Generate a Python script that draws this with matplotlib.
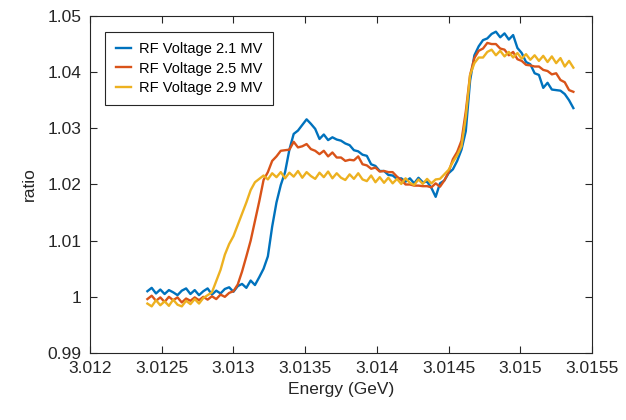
import numpy as np
import matplotlib
matplotlib.use("Agg")
from matplotlib import pyplot as plt
from matplotlib.ticker import FuncFormatter

plt.rcParams['font.family'] = ['Liberation Sans', 'DejaVu Sans']

# energy scan, shared by all three runs (GeV)
e_start = 3.0124
e_stop = 3.01537

labels = ["RF Voltage 2.1 MV", "RF Voltage 2.5 MV", "RF Voltage 2.9 MV"]
colors = ["#0072BD", "#D95319", "#EDB120"]

ratio_21 = [
    1.0010, 1.0016, 1.0006, 1.0013, 1.0005, 1.0012, 1.0008, 1.0003, 1.0011, 1.0015,
    1.0005, 1.0012, 1.0003, 1.0010, 1.0015, 1.0004, 1.0011, 1.0006, 1.0014, 1.0017,
    1.0009, 1.0019, 1.0023, 1.0016, 1.0029, 1.0021, 1.0035, 1.0050, 1.0072, 1.0125,
    1.0168, 1.0199, 1.0222, 1.0262, 1.0290, 1.0296, 1.0306, 1.0316, 1.0308, 1.0299,
    1.0281, 1.0289, 1.0279, 1.0284, 1.0280, 1.0278, 1.0273, 1.0270, 1.0261, 1.0259,
    1.0253, 1.0251, 1.0236, 1.0233, 1.0224, 1.0224, 1.0217, 1.0216, 1.0210, 1.0211,
    1.0205, 1.0211, 1.0202, 1.0212, 1.0204, 1.0205, 1.0194, 1.0178, 1.0202, 1.0207,
    1.0220, 1.0227, 1.0242, 1.0262, 1.0295, 1.0385, 1.0430, 1.0446, 1.0457, 1.0460,
    1.0468, 1.0472, 1.0462, 1.0469, 1.0458, 1.0466, 1.0443, 1.0434, 1.0418, 1.0414,
    1.0398, 1.0395, 1.0372, 1.0381, 1.0369, 1.0368, 1.0367, 1.0361, 1.0350, 1.0336,
]

ratio_25 = [
    0.9996, 1.0002, 0.9993, 0.9999, 0.9991, 1.0000, 0.9994, 0.9999, 0.9990, 0.9997,
    0.9993, 0.9999, 0.9994, 1.0000, 0.9995, 1.0001, 0.9996, 1.0004, 1.0000, 1.0007,
    1.0010, 1.0022, 1.0045, 1.0072, 1.0100, 1.0135, 1.0170, 1.0208, 1.0222, 1.0242,
    1.0250, 1.0260, 1.0261, 1.0262, 1.0276, 1.0266, 1.0268, 1.0272, 1.0263, 1.0260,
    1.0254, 1.0260, 1.0250, 1.0257, 1.0248, 1.0248, 1.0242, 1.0244, 1.0243, 1.0250,
    1.0236, 1.0234, 1.0228, 1.0230, 1.0223, 1.0224, 1.0222, 1.0222, 1.0214, 1.0208,
    1.0200, 1.0200, 1.0198, 1.0198, 1.0197, 1.0197, 1.0195, 1.0202, 1.0196, 1.0207,
    1.0222, 1.0245, 1.0258, 1.0278, 1.0330, 1.0395, 1.0425, 1.0438, 1.0442, 1.0452,
    1.0450, 1.0450, 1.0442, 1.0440, 1.0430, 1.0436, 1.0423, 1.0420, 1.0413, 1.0412,
    1.0410, 1.0410, 1.0404, 1.0402, 1.0396, 1.0398, 1.0386, 1.0382, 1.0368, 1.0365,
]

ratio_29 = [
    0.9988, 0.9983, 0.9994, 0.9985, 0.9992, 0.9984, 0.9995, 0.9986, 0.9983, 0.9993,
    0.9987, 0.9996, 0.9988, 0.9998, 1.0003, 1.0008, 1.0028, 1.0048, 1.0075, 1.0094,
    1.0108, 1.0128, 1.0148, 1.0168, 1.0190, 1.0204, 1.0210, 1.0216, 1.0209, 1.0220,
    1.0213, 1.0222, 1.0211, 1.0221, 1.0214, 1.0224, 1.0212, 1.0222, 1.0215, 1.0210,
    1.0221, 1.0213, 1.0223, 1.0211, 1.0220, 1.0212, 1.0208, 1.0218, 1.0210, 1.0220,
    1.0209, 1.0206, 1.0216, 1.0204, 1.0213, 1.0203, 1.0212, 1.0202, 1.0210, 1.0201,
    1.0211, 1.0203, 1.0199, 1.0209, 1.0201, 1.0210, 1.0202, 1.0209, 1.0210, 1.0218,
    1.0226, 1.0240, 1.0252, 1.0268, 1.0320, 1.0395, 1.0416, 1.0426, 1.0426, 1.0436,
    1.0440, 1.0430, 1.0438, 1.0428, 1.0436, 1.0426, 1.0434, 1.0424, 1.0432, 1.0422,
    1.0430, 1.0420, 1.0429, 1.0418, 1.0428, 1.0416, 1.0425, 1.0410, 1.0420, 1.0408,
]

energy = np.linspace(e_start, e_stop, len(ratio_21))

fig = plt.figure(figsize=(6.26, 4.2), dpi=100)
ax = fig.add_axes([0.1438, 0.1595, 0.8019, 0.8025])

for vals, lab, col in zip([ratio_21, ratio_25, ratio_29], labels, colors):
    ax.plot(energy, vals, color=col, lw=1.7, label=lab)

ax.set_xlim(3.012, 3.0155)
ax.set_ylim(0.99, 1.05)
ax.set_xticks(np.arange(3.012, 3.01551, 0.0005))
ax.set_yticks(np.arange(0.99, 1.0501, 0.01))
fmt = FuncFormatter(lambda v, p: f"{v:g}")
ax.xaxis.set_major_formatter(fmt)
ax.yaxis.set_major_formatter(fmt)

ax.tick_params(direction='in', length=5, width=0.8, top=True, right=True,
               labelsize=12.5, colors='#262626', pad=6)
for s in ax.spines.values():
    s.set_color('#262626')
    s.set_linewidth(0.8)

ax.set_xlabel("Energy (GeV)", fontsize=12.5, color='#262626', labelpad=4)
ax.set_ylabel("ratio", fontsize=12.5, color='#262626', labelpad=8)

leg = ax.legend(loc='upper left', bbox_to_anchor=(0.03, 0.953), borderaxespad=0,
                fontsize=10.5, handlelength=1.05, handletextpad=0.55, labelspacing=0.36,
                borderpad=0.72, fancybox=False, framealpha=1, edgecolor='#262626')
leg.get_frame().set_linewidth(0.8)

fig.savefig("out.png", dpi=100)
